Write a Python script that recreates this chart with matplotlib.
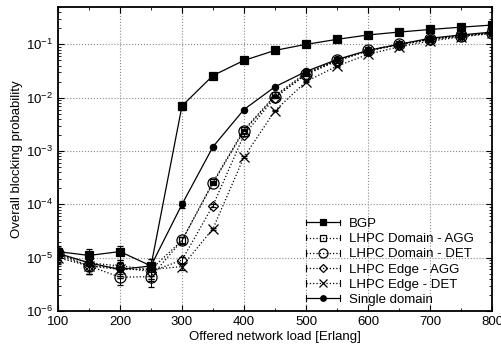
import numpy as np
import matplotlib.pyplot as plt
from matplotlib.lines import Line2D
from matplotlib.legend_handler import HandlerBase
from matplotlib.ticker import MultipleLocator, LogLocator, NullFormatter

plt.rcParams['font.family'] = ['Liberation Sans', 'DejaVu Sans']

load = [100, 150, 200, 250, 300, 350, 400, 450, 500, 550, 600, 650, 700, 750, 800]

bgp = [1.3e-5, 1.1e-5, 1.3e-5, 7e-6, 7e-3, 2.6e-2, 5e-2, 7.7e-2, 1.0e-1,
       1.24e-1, 1.5e-1, 1.7e-1, 1.9e-1, 2.1e-1, 2.3e-1]
dom_agg = [1.2e-5, 8e-6, 7e-6, 6e-6, 2.1e-5, 2.6e-4, 2.5e-3, 1.1e-2, 2.9e-2,
           5e-2, 7.7e-2, 1.0e-1, 1.25e-1, 1.45e-1, 1.65e-1]
dom_det = [1.2e-5, 7e-6, 4.3e-6, 4.4e-6, 2.1e-5, 2.5e-4, 2.4e-3, 1.05e-2, 2.8e-2,
           5e-2, 7.7e-2, 1.0e-1, 1.25e-1, 1.45e-1, 1.65e-1]
edge_agg = [1.1e-5, 7e-6, 6.5e-6, 5.5e-6, 9e-6, 9.5e-5, 2e-3, 1.0e-2, 2.7e-2,
            4.9e-2, 7.5e-2, 9.8e-2, 1.22e-1, 1.42e-1, 1.62e-1]
edge_det = [1.0e-5, 7e-6, 6e-6, 6e-6, 6.8e-6, 3.5e-5, 7.7e-4, 5.7e-3, 2.0e-2,
            3.9e-2, 6.5e-2, 9e-2, 1.15e-1, 1.38e-1, 1.6e-1]
single = [1.2e-5, 8e-6, 6e-6, 7e-6, 1e-4, 1.2e-3, 6e-3, 1.6e-2, 3.1e-2,
          5.2e-2, 7.7e-2, 1.0e-1, 1.3e-1, 1.5e-1, 1.7e-1]

# relative half-width of the confidence intervals (only visible at low load)
rel_err = [0.25, 0.3, 0.3, 0.35, 0.15, 0.05, 0.03, 0.02, 0.02,
           0.02, 0.02, 0.02, 0.02, 0.02, 0.02]

series = [
    ('BGP', bgp, 's', 'k', '-'),
    ('LHPC Domain - AGG', dom_agg, 's', 'none', ':'),
    ('LHPC Domain - DET', dom_det, 'o', 'none', ':'),
    ('LHPC Edge - AGG', edge_agg, 'D', 'none', ':'),
    ('LHPC Edge - DET', edge_det, 'x', 'none', ':'),
    ('Single domain', single, 'o', 'k', '-'),
]
sizes = {'BGP': 5.5, 'LHPC Domain - AGG': 5, 'LHPC Domain - DET': 8,
         'LHPC Edge - AGG': 5.5, 'LHPC Edge - DET': 7, 'Single domain': 4.5}
leg_sizes = {'BGP': 5, 'LHPC Domain - AGG': 4, 'LHPC Domain - DET': 6.5,
             'LHPC Edge - AGG': 4.5, 'LHPC Edge - DET': 6, 'Single domain': 4}


class GnuplotKey(HandlerBase):
    # line with end caps and a marker in the middle, like a gnuplot key entry
    def create_artists(self, legend, orig, xd, yd, width, height, fontsize, trans):
        mk, fc, ls, ms = orig
        y = height / 2 - yd
        x0, x1 = -xd, width - xd
        line = Line2D([x0, x1], [y, y], color='k', ls=ls, lw=0.9)
        caps = Line2D([x0, x0, np.nan, x1, x1], [y - 2, y + 2, np.nan, y - 2, y + 2],
                      color='k', lw=0.8)
        mark = Line2D([(x0 + x1) / 2], [y], marker=mk, mfc=fc, mec='k', ms=ms,
                      mew=0.9, ls='none')
        for a in (line, caps, mark):
            a.set_transform(trans)
        return [line, caps, mark]


fig = plt.figure(figsize=(5.02, 3.54), dpi=100)
ax = fig.add_axes([0.1155, 0.1215, 0.8645, 0.8585])

handles, labels = [], []
for name, vals, mk, fc, ls in series:
    v = np.array(vals)
    err = v * np.array(rel_err)
    ax.errorbar(load, v, yerr=err, fmt=mk, color='k', mfc=fc, mec='k',
                ms=sizes[name], ls=ls, lw=0.9, elinewidth=0.7, capsize=2,
                mew=0.9)
    handles.append((mk, fc, ls, leg_sizes[name]))
    labels.append(name)

ax.set_yscale('log')
ax.set_xlim(100, 800)
ax.set_ylim(1e-6, 0.5)
ax.xaxis.set_major_locator(MultipleLocator(100))
ax.xaxis.set_minor_locator(MultipleLocator(50))
ax.yaxis.set_major_locator(LogLocator(base=10, numticks=10))
ax.yaxis.set_minor_locator(LogLocator(base=10, subs=np.arange(2, 10), numticks=20))
ax.yaxis.set_minor_formatter(NullFormatter())
ax.tick_params(which='both', direction='in', top=True, right=True, labelsize=9.5)
ax.tick_params(which='major', length=4)
ax.tick_params(which='minor', length=2)
ax.grid(True, which='major', ls=':', color='#888888', lw=0.8)
for s in ax.spines.values():
    s.set_linewidth(1.3)

ax.set_xlabel('Offered network load [Erlang]', fontsize=9.5, labelpad=2)
ax.set_ylabel('Overall blocking probability', fontsize=9.5, labelpad=2)

ax.legend(handles, labels, handler_map={tuple: GnuplotKey()},
          loc='lower right', frameon=False, fontsize=9.5, handlelength=2.6,
          labelspacing=0.22, borderaxespad=0.5, handletextpad=0.65,
          bbox_to_anchor=(0.985, -0.022))

fig.savefig('out.png', dpi=100)
